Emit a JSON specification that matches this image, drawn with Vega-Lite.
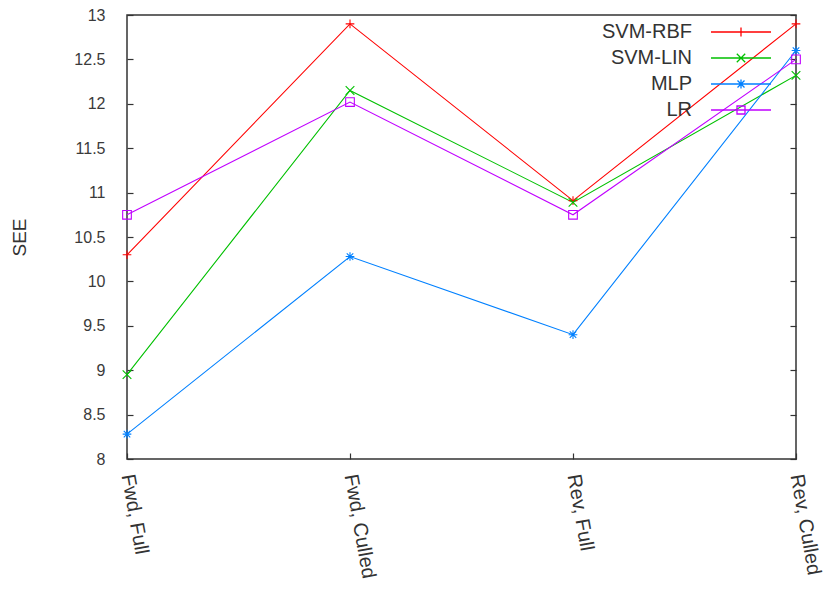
{
  "$schema": "https://vega.github.io/schema/vega-lite/v6.json",
  "width": 669,
  "height": 444,
  "autosize": {"type": "none"},
  "padding": {"left": 127, "top": 15, "right": 29, "bottom": 131},
  "background": "white",
  "config": {
    "font": "Liberation Sans",
    "view": {"stroke": "#333333", "strokeWidth": 1.5},
    "axis": {"grid": false, "domain": false, "tickColor": "#333333", "tickWidth": 1.2, "labelColor": "#3a3a3a", "labelFont": "Liberation Sans", "titleFont": "Liberation Sans", "titleColor": "#333333", "titleFontWeight": "normal"}
  },
  "data": {
    "values": [
      {"config": "Fwd, Full", "model": "SVM-RBF", "see": 10.30},
      {"config": "Fwd, Culled", "model": "SVM-RBF", "see": 12.90},
      {"config": "Rev, Full", "model": "SVM-RBF", "see": 10.91},
      {"config": "Rev, Culled", "model": "SVM-RBF", "see": 12.90},
      {"config": "Fwd, Full", "model": "SVM-LIN", "see": 8.95},
      {"config": "Fwd, Culled", "model": "SVM-LIN", "see": 12.15},
      {"config": "Rev, Full", "model": "SVM-LIN", "see": 10.89},
      {"config": "Rev, Culled", "model": "SVM-LIN", "see": 12.32},
      {"config": "Fwd, Full", "model": "MLP", "see": 8.28},
      {"config": "Fwd, Culled", "model": "MLP", "see": 10.28},
      {"config": "Rev, Full", "model": "MLP", "see": 9.40},
      {"config": "Rev, Culled", "model": "MLP", "see": 12.60},
      {"config": "Fwd, Full", "model": "LR", "see": 10.75},
      {"config": "Fwd, Culled", "model": "LR", "see": 12.02},
      {"config": "Rev, Full", "model": "LR", "see": 10.75},
      {"config": "Rev, Culled", "model": "LR", "see": 12.50}
    ]
  },
  "encoding": {
    "x": {
      "field": "config", "type": "ordinal",
      "sort": ["Fwd, Full", "Fwd, Culled", "Rev, Full", "Rev, Culled"],
      "scale": {"type": "point", "padding": 0},
      "axis": {"title": null, "orient": "bottom", "tickSize": -6, "labelAngle": 80, "labelAlign": "left", "labelBaseline": "middle", "labelFontSize": 20, "labelPadding": 21, "labelColor": "#333333"}
    },
    "y": {
      "field": "see", "type": "quantitative",
      "scale": {"domain": [8, 13], "nice": false, "zero": false},
      "axis": null
    },
    "color": {
      "field": "model", "type": "nominal",
      "scale": {"domain": ["SVM-RBF", "SVM-LIN", "MLP", "LR"], "range": ["#ff0000", "#00c000", "#0080ff", "#c000ff"]},
      "legend": {
        "title": null,
        "orient": "none",
        "legendX": 603,
        "legendY": 6,
        "padding": 0,
        "symbolSize": 400,
        "symbolStrokeWidth": 1.3,
        "symbolFillColor": "transparent",
        "labelAlign": "right",
        "labelOffset": -60,
        "labelFontSize": 20,
        "labelColor": "#333333",
        "labelLimit": 200,
        "rowPadding": 5,
        "encode": {
          "symbols": {
            "update": {
              "shape": {"signal": "datum.value === 'SVM-RBF' ? 'M-3,0H3M0,-0.45V0.45' : datum.value === 'SVM-LIN' ? 'M-3,0H3M-0.42,-0.42L0.42,0.42M-0.42,0.42L0.42,-0.42' : datum.value === 'MLP' ? 'M-3,0H3M0,-0.45V0.45M-0.35,-0.35L0.35,0.35M-0.35,0.35L0.35,-0.35' : 'M-3,0H3M-0.4,-0.4H0.4V0.4H-0.4Z'"},
              "fill": {"value": "transparent"}
            }
          }
        }
      }
    }
  },
  "layer": [
    {
      "mark": {"type": "line", "strokeWidth": 1.1},
      "encoding": {
        "y": {
          "field": "see", "type": "quantitative",
          "axis": {"orient": "left", "title": "SEE", "titleFontSize": 19, "titlePadding": 44, "values": [8, 8.5, 9, 9.5, 10, 10.5, 11, 11.5, 12, 12.5, 13], "format": "~g", "tickSize": -6, "labelPadding": 28, "labelFontSize": 16}
        }
      }
    },
    {
      "transform": [{"filter": "datum.model === 'SVM-RBF'"}],
      "mark": {"type": "point", "filled": false, "strokeWidth": 1.1, "size": 75, "opacity": 1, "shape": "M-1,0H1M0,-1V1"},
      "encoding": {
        "y": {
          "field": "see", "type": "quantitative",
          "axis": {"orient": "right", "title": null, "labels": false, "values": [8, 8.5, 9, 9.5, 10, 10.5, 11, 11.5, 12, 12.5, 13], "tickSize": -6}
        }
      }
    },
    {
      "transform": [{"filter": "datum.model === 'SVM-LIN'"}],
      "mark": {"type": "point", "filled": false, "strokeWidth": 1.1, "size": 75, "opacity": 1, "shape": "M-1,-1L1,1M-1,1L1,-1"}
    },
    {
      "transform": [{"filter": "datum.model === 'MLP'"}],
      "mark": {"type": "point", "filled": false, "strokeWidth": 1.1, "size": 75, "opacity": 1, "shape": "M-1,0H1M0,-1V1M-0.75,-0.75L0.75,0.75M-0.75,0.75L0.75,-0.75"}
    },
    {
      "transform": [{"filter": "datum.model === 'LR'"}],
      "mark": {"type": "point", "filled": false, "strokeWidth": 1.1, "size": 75, "opacity": 1, "shape": "M-1,-1H1V1H-1Z"}
    }
  ]
}
